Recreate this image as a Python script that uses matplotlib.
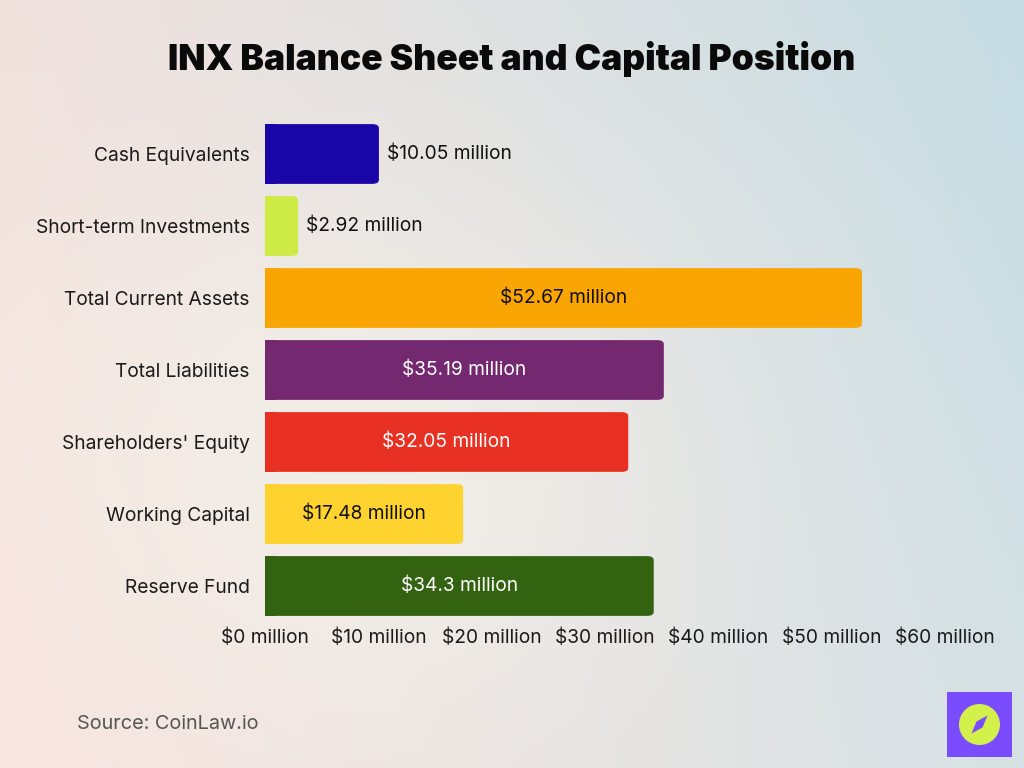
import numpy as np
import matplotlib
matplotlib.use("Agg")
import matplotlib.pyplot as plt
from matplotlib.patches import FancyBboxPatch, Ellipse, Polygon, Rectangle

# data
categories = ["Cash Equivalents", "Short-term Investments", "Total Current Assets",
              "Total Liabilities", "Shareholders' Equity", "Working Capital", "Reserve Fund"]
values = [10.05, 2.92, 52.67, 35.19, 32.05, 17.48, 34.3]
value_labels = ["$10.05 million", "$2.92 million", "$52.67 million", "$35.19 million",
                "$32.05 million", "$17.48 million", "$34.3 million"]
bar_colors = ["#1a05a8", "#cdea45", "#f9a605", "#74286f", "#e83123", "#fed330", "#336311"]
label_colors = ["#111111", "#111111", "#111111", "white", "white", "#111111", "white"]
xticks = [0, 10, 20, 30, 40, 50, 60]
xtick_labels = [f"${t} million" for t in xticks]

plt.rcParams["font.family"] = ["Inter", "DejaVu Sans"]
FS = 13.8

fig = plt.figure(figsize=(10.24, 7.68), dpi=100)

# background gradient
bg = fig.add_axes([0, 0, 1, 1], zorder=-10)
h, w = 200, 260
yy, xx = np.mgrid[0:1:h*1j, 0:1:w*1j]
tl = np.array([242, 226, 222]) / 255
tr = np.array([198, 221, 228]) / 255
bl = np.array([250, 228, 222]) / 255
br = np.array([214, 225, 229]) / 255
img = ((1 - xx)[..., None] * (1 - yy)[..., None] * tl + xx[..., None] * (1 - yy)[..., None] * tr
       + (1 - xx)[..., None] * yy[..., None] * bl + xx[..., None] * yy[..., None] * br)
cream = np.array([246, 242, 234]) / 255
bump = np.exp(-(((xx - 0.35) / 0.35) ** 2 + ((yy - 0.6) / 0.4) ** 2))[..., None]
img = img * (1 - 0.7 * bump) + cream * 0.7 * bump
bg.imshow(img, aspect="auto", extent=[0, 1, 0, 1], origin="upper")
bg.axis("off")

# main axes
left, right = 265 / 1024, 945 / 1024
bottom, top = 1 - 622 / 768, 1 - 118 / 768
ax = fig.add_axes([left, bottom, right - left, top - bottom])
ax.set_facecolor("none")
ypos = np.arange(len(categories))
bar_h = 0.83
for i, (v, c) in enumerate(zip(values, bar_colors)):
    patch = FancyBboxPatch((0, i - bar_h / 2), v, bar_h,
                           boxstyle="round,pad=0,rounding_size=0.6",
                           mutation_aspect=0.09, facecolor=c, edgecolor="none")
    ax.add_patch(patch)
    # flat left edge
    ax.add_patch(Rectangle((0, i - bar_h / 2), min(v, 1.0), bar_h, facecolor=c, edgecolor="none"))
    if v > 15:
        ax.text(v / 2, i, value_labels[i], ha="center", va="center",
                fontsize=FS, color=label_colors[i])
    else:
        ax.text(v + 0.7, i, value_labels[i], ha="left", va="center",
                fontsize=FS, color="#111111")

ax.set_xlim(0, 60)
ax.set_ylim(len(categories) - 0.5, -0.5)
ax.set_yticks(ypos)
ax.set_yticklabels(categories, fontsize=FS, color="#1a1a1a")
ax.set_xticks(xticks)
ax.set_xticklabels(xtick_labels, fontsize=FS, color="#1a1a1a")
ax.tick_params(length=0)
ax.tick_params(axis="y", pad=11)
ax.tick_params(axis="x", pad=5)
for s in ax.spines.values():
    s.set_visible(False)

# title
fig.text(0.5, 1 - 59 / 768, "INX Balance Sheet and Capital Position", ha="center", va="center",
         fontsize=25.5, fontweight="black", color="#0a0a0a")

# source
fig.text(77 / 1024, 1 - 724 / 768, "Source: CoinLaw.io", ha="left", va="center",
         fontsize=14.3, color="#555555")

# logo
lx0, ly0, lsz = 947, 692, 65
fig.patches.append(Rectangle((lx0 / 1024, 1 - (ly0 + lsz) / 768), lsz / 1024, lsz / 768,
                             transform=fig.transFigure, facecolor="#7b4cff", edgecolor="none"))
cx, cy = (lx0 + lsz / 2) / 1024, 1 - (ly0 + lsz / 2) / 768
fig.patches.append(Ellipse((cx, cy), 41 / 1024, 41 / 768, transform=fig.transFigure,
                           facecolor="#d4f04a", edgecolor="none"))
pts = [(8, 9), (3, -3), (-8, -9), (-3, 3)]
fig.patches.append(Polygon([(cx + dx / 1024, cy + dy / 768) for dx, dy in pts], closed=True,
                           transform=fig.transFigure, facecolor="#7b4cff", edgecolor="none"))

fig.savefig("out.png", dpi=100)
